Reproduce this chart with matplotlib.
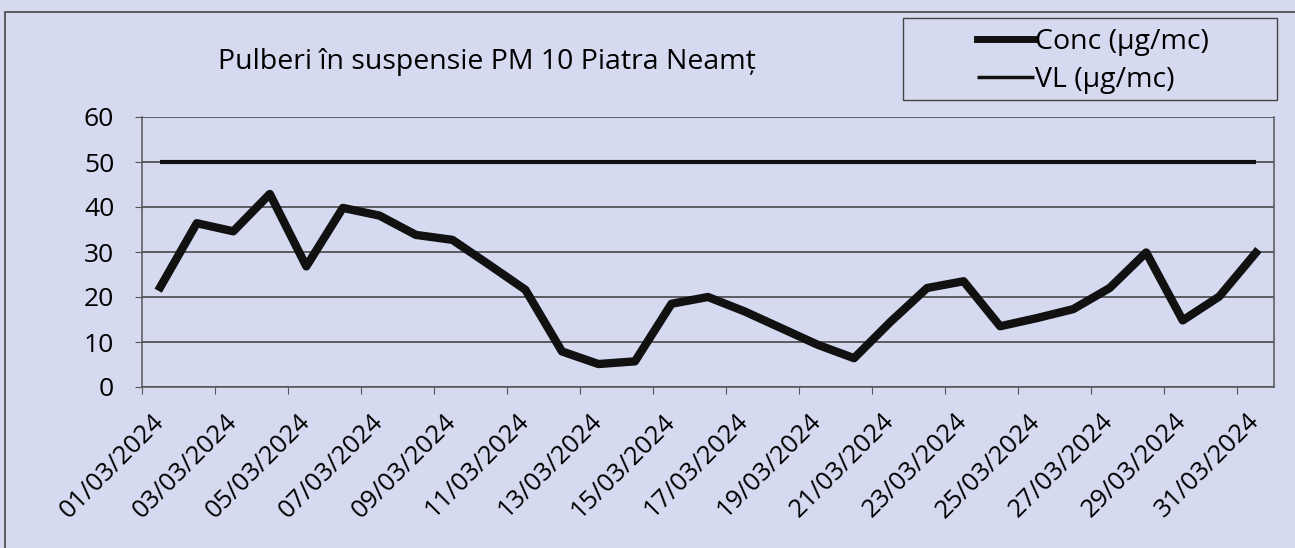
import numpy as np
import matplotlib
matplotlib.use("Agg")
from matplotlib import pyplot as plt
from matplotlib.patches import Rectangle

# values (µg/mc), one per day in March 2024
days = [f"{d:02d}/03/2024" for d in range(1, 32)]
conc = [22.2, 36.4, 34.6, 42.9, 26.8, 39.8, 38.1, 33.8, 32.7, 27.2,
        21.6, 7.9, 5.1, 5.7, 18.5, 20.0, 16.8, 13.1, 9.4, 6.4,
        14.5, 22.0, 23.5, 13.5, 15.3, 17.3, 22.0, 29.9, 14.8, 20.1, 29.8]
vl = [50] * 31

title = "Pulberi în suspensie PM 10 Piatra Neamț"
bg = '#d5daf0'
W, H = 1295, 548

plt.rcParams['font.family'] = ['Open Sans', 'DejaVu Sans']

fig = plt.figure(figsize=(W / 100, H / 100), dpi=100, facecolor=bg)
ax = fig.add_axes([142 / W, 1 - 387 / H, (1274 - 142) / W, (387 - 117) / H])
ax.set_facecolor(bg)

x = np.arange(len(days))
ax.plot(x, vl, color='#111111', lw=3, solid_capstyle='butt', label='VL (µg/mc)', zorder=3)
ax.plot(x, conc, color='#111111', lw=6, label='Conc (µg/mc)', zorder=4)

ax.set_xlim(-0.5, len(days) - 0.5)
ax.set_ylim(0, 60)
ax.set_yticks(range(0, 61, 10))
ax.grid(axis='y', color='#3a3a3a', lw=1.1)
ax.set_axisbelow(True)

# category boundaries get the tick marks, labels sit on the categories
ax.set_xticks(np.arange(-0.5, len(days) - 1, 2))
ax.set_xticklabels([])
ax.set_xticks(x[::2], minor=True)
ax.set_xticklabels(days[::2], minor=True, rotation=45, ha='right', va='center',
                   rotation_mode='anchor', fontsize=18.5)
ax.tick_params(axis='x', which='major', length=5, color='#555555', direction='out')
ax.tick_params(axis='x', which='minor', length=0, pad=22)
ax.tick_params(axis='y', length=5, color='#555555', labelsize=19, pad=15)

for s in ['left', 'bottom', 'right']:
    ax.spines[s].set_color('#555555')
    ax.spines[s].set_linewidth(1.1)
ax.spines['top'].set_visible(False)

fig.text(487 / W, 1 - 62 / H, title, ha='center', va='center', fontsize=20.5)

# legend box
fig.patches.append(Rectangle((903 / W, 1 - 100 / H), (1277 - 903) / W, 82 / H,
                             transform=fig.transFigure, fill=False,
                             edgecolor='#444444', lw=1.0))
handles, labels = ax.get_legend_handles_labels()
leg = fig.legend(handles[::-1], labels[::-1], loc='center',
                 bbox_to_anchor=(1093 / W, 1 - 61 / H), fontsize=20.5, frameon=False,
                 handlelength=2.0, handletextpad=0.05, labelspacing=0.35,
                 borderpad=0)
leg.get_lines()[0].set_linewidth(5)
leg.get_lines()[1].set_linewidth(2.5)

# outer chart border
fig.patches.append(Rectangle((5 / W, -0.1), 1.1, 1.1 - 12 / H, transform=fig.transFigure,
                             fill=False, edgecolor='#444444', lw=1.2))

fig.savefig('out.png', dpi=100, facecolor=bg)
